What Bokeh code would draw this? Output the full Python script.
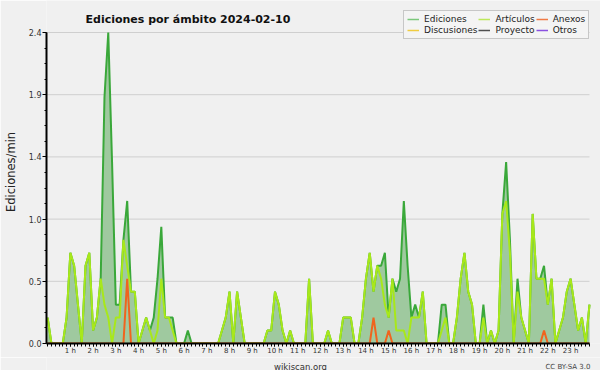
from bokeh.plotting import figure
from bokeh.layouts import column
from bokeh.models import (Range1d, FixedTicker, PrintfTickFormatter, Label,
                          Legend, LegendItem, ColumnDataSource)
from bokeh.core.properties import value
from bokeh.embed import file_html
from bokeh.resources import INLINE

# ---- data: 10-minute buckets, edits per minute ----
minutes = list(range(0, 1440, 10))
hours = [m / 60 for m in minutes]

ediciones = [
    0.2, 0, 0, 0, 0, 0.2, 0.7, 0.6, 0.3, 0,          # 0-9
    0.6, 0.7, 0.1, 0.2, 0.5, 1.9, 2.4, 1.4, 0.3, 0.3,  # 10-19
    0.8, 1.1, 0.4, 0.4, 0, 0.1, 0.2, 0.1, 0.2, 0.5,    # 20-29
    0.9, 0.2, 0.2, 0.2, 0, 0, 0, 0.1, 0, 0,            # 30-39
    0, 0, 0, 0, 0, 0, 0.1, 0.2, 0.4, 0,                # 40-49
    0.4, 0.2, 0, 0, 0, 0, 0, 0, 0.1, 0.1,              # 50-59
    0.4, 0.3, 0.1, 0, 0.1, 0, 0, 0, 0, 0.5,            # 60-69
    0, 0, 0, 0, 0.1, 0, 0, 0, 0.2, 0.2,                # 70-79
    0.2, 0, 0, 0.2, 0.5, 0.7, 0.4, 0.6, 0.6, 0.7,      # 80-89
    0.2, 0.5, 0.4, 0.5, 1.1, 0.6, 0.2, 0.3, 0.2, 0.4,  # 90-99
    0, 0, 0, 0, 0.3, 0.3, 0, 0, 0.2, 0.5,              # 100-109
    0.7, 0.4, 0.3, 0, 0, 0.3, 0, 0.1, 0, 0.1,          # 110-119
    1.0, 1.4, 0.8, 0, 0.5, 0.2, 0.1, 0, 1.0, 0.5,      # 120-129
    0.5, 0.6, 0.3, 0.5, 0, 0.1, 0.2, 0.4, 0.5, 0.3,    # 130-139
    0.1, 0.2, 0, 0.3,                                  # 140-143
]

articulos = [
    0.2, 0, 0, 0, 0, 0.2, 0.7, 0.6, 0.3, 0,
    0.6, 0.7, 0.1, 0.2, 0.5, 0.3, 0.2, 0, 0.2, 0.2,
    0.8, 0.6, 0.4, 0.4, 0, 0.1, 0.2, 0.1, 0, 0.1,
    0.5, 0.2, 0.2, 0.1, 0, 0, 0, 0, 0, 0,
    0, 0, 0, 0, 0, 0, 0.1, 0.2, 0.4, 0,
    0.4, 0.2, 0, 0, 0, 0, 0, 0, 0.1, 0.1,
    0.4, 0.3, 0.1, 0, 0.1, 0, 0, 0, 0, 0.5,
    0, 0, 0, 0, 0.1, 0, 0, 0, 0.2, 0.2,
    0.2, 0, 0, 0.2, 0.5, 0.7, 0.4, 0.6, 0.5, 0.3,
    0.2, 0.5, 0.1, 0.1, 0.1, 0, 0.2, 0.2, 0.2, 0.4,
    0, 0, 0, 0, 0.1, 0.2, 0, 0, 0.2, 0.5,
    0.7, 0.4, 0.3, 0, 0, 0.2, 0, 0.1, 0, 0.1,
    1.0, 1.1, 0.7, 0, 0.4, 0.2, 0.1, 0, 1.0, 0.5,
    0.5, 0.5, 0.3, 0.5, 0, 0.1, 0.2, 0.4, 0.5, 0.3,
    0.1, 0.2, 0, 0.3,
]

anexos = [0.0] * 144
anexos_puntos = {21: 0.5, 86: 0.2, 90: 0.1, 131: 0.1}
for k, v in anexos_puntos.items():
    anexos[k] = v

series_names = ["Ediciones", "Artículos", "Anexos", "Discusiones", "Proyecto", "Otros"]
legend_colors = ["#7cc87c", "#bde85a", "#f07a45", "#f0cc40", "#505050", "#8a50e0"]

title_text = "Ediciones por ámbito  2024-02-10"
footer_texts = ["wikiscan.org", "CC BY-SA 3.0"]

y_max = 2.4
y_ticks = [0.0, 0.48, 0.96, 1.44, 1.92, 2.4]
y_minor = [round(k * 0.12, 2) for k in range(0, 21)]
x_ticks = list(range(1, 24))
x_minor = [k / 6 for k in range(0, 144)]

BG = "#f0f0f0"

# ---- layout geometry (pixels) ----
W, H = 600, 357
FOOT_H = 370 - H
LEFT, BOTTOM = 46, 14
PLOT_W, PLOT_H = 543, 311          # visible data area
FRAME_W, FRAME_H = W - LEFT, H - BOTTOM

x_start = hours[0] - 0.05
x_last = hours[-1]
px_per_h = PLOT_W / (x_last - x_start)
x_end = x_start + FRAME_W / px_per_h
y_end = y_max * FRAME_H / PLOT_H

src = ColumnDataSource(dict(x=hours, e=ediciones, a=articulos, n=anexos))

p = figure(width=W, height=H, output_backend="svg", toolbar_location=None,
           x_range=Range1d(x_start, x_end), y_range=Range1d(0, y_end),
           min_border_left=LEFT, min_border_right=0, min_border_top=0,
           min_border_bottom=BOTTOM)

p.background_fill_color = BG
p.border_fill_color = BG
p.outline_line_color = None

# horizontal grid lines, limited to the data area
p.segment(x0=[x_start] * len(y_ticks), x1=[x_last] * len(y_ticks),
          y0=y_ticks, y1=y_ticks, line_color="#cfcfcf", line_width=1,
          level="underlay")

p.varea(x="x", y1=0, y2="e", source=src, fill_color="#9fc99f", fill_alpha=1.0)
p.line(x="x", y="e", source=src, line_color="#3aa83a", line_width=2)
p.line(x="x", y="a", source=src, line_color="#a8e81a", line_width=2)
p.line(x="x", y="n", source=src, line_color="#f0641e", line_width=2)

# axes
p.grid.visible = False

p.yaxis.ticker = FixedTicker(ticks=y_ticks, minor_ticks=y_minor)
p.yaxis.formatter = PrintfTickFormatter(format="%.1f")
p.yaxis.bounds = (0, y_max)
p.xaxis.ticker = FixedTicker(ticks=x_ticks, minor_ticks=x_minor)
p.xaxis.formatter = PrintfTickFormatter(format="%d h")
p.xaxis.bounds = (x_start, x_last)

for ax in (p.xaxis, p.yaxis):
    ax.axis_line_color = "black"
    ax.axis_line_width = 2
    ax.major_tick_line_color = "black"
    ax.minor_tick_line_color = "black"
    ax.major_tick_in = 0
    ax.minor_tick_in = 0
    ax.major_label_text_font = "DejaVu Sans"
    ax.major_label_text_color = "#333333"

p.xaxis.major_label_text_font_size = "7px"
p.yaxis.major_label_text_font_size = "8px"
p.xaxis.major_tick_out = 3
p.xaxis.minor_tick_out = 3
p.xaxis.major_label_standoff = 0
p.yaxis.major_tick_out = 4
p.yaxis.minor_tick_out = 2
p.yaxis.major_label_standoff = 1
p.yaxis.axis_label = "Ediciones/min"
p.yaxis.axis_label_text_font = "DejaVu Sans"
p.yaxis.axis_label_text_font_size = "11.5px"
p.yaxis.axis_label_text_font_style = "normal"
p.yaxis.axis_label_text_color = "#222222"
p.yaxis.axis_label_standoff = 8

# title (inside the frame area above the data)
p.add_layout(Label(x=39, y=FRAME_H - 19, x_units="screen", y_units="screen",
                   text=title_text, text_font="DejaVu Sans",
                   text_font_style="bold", text_font_size="11px",
                   text_color="#111111", text_baseline="alphabetic"))

# legend: one line renderer per series, holding no drawable point
items = []
for name, col in zip(series_names, legend_colors):
    r = p.line(x=[hours[0]], y=[float("nan")], line_color=col, line_width=1.5)
    items.append(LegendItem(label=name, renderers=[r]))
legend = Legend(items=items, orientation="horizontal", ncols=3,
                location=(357, FRAME_H - 39), label_text_font="DejaVu Sans",
                label_text_font_size="9px", label_text_color="#222222",
                glyph_width=12, glyph_height=10, label_height=10,
                label_standoff=5, spacing=1, padding=3, margin=0,
                border_line_color="#999999", background_fill_color="#f4f4f4",
                background_fill_alpha=1.0)
p.add_layout(legend)

# footer strip with the source / licence texts
# (the column aligns its frame with the main plot's frame, which starts at LEFT)
f = figure(width=W, height=FOOT_H, output_backend="svg", toolbar_location=None,
           x_range=Range1d(LEFT, W), y_range=Range1d(0, FOOT_H),
           x_axis_type=None, y_axis_type=None, min_border=0,
           min_border_left=LEFT)
f.background_fill_color = BG
f.border_fill_color = BG
f.outline_line_color = None
f.grid.visible = False
f.text(x=[300], y=[4], text=[footer_texts[0]], text_font=value("DejaVu Sans"),
       text_font_size=value("8.5px"), text_color="#333333",
       text_align="center", text_baseline="alphabetic")
f.text(x=[590], y=[4], text=[footer_texts[1]], text_font=value("DejaVu Sans"),
       text_font_size=value("7px"), text_color="#444444",
       text_align="right", text_baseline="alphabetic")

layout = column(p, f, spacing=0)

open("out.html", "w").write(file_html(layout, INLINE))
